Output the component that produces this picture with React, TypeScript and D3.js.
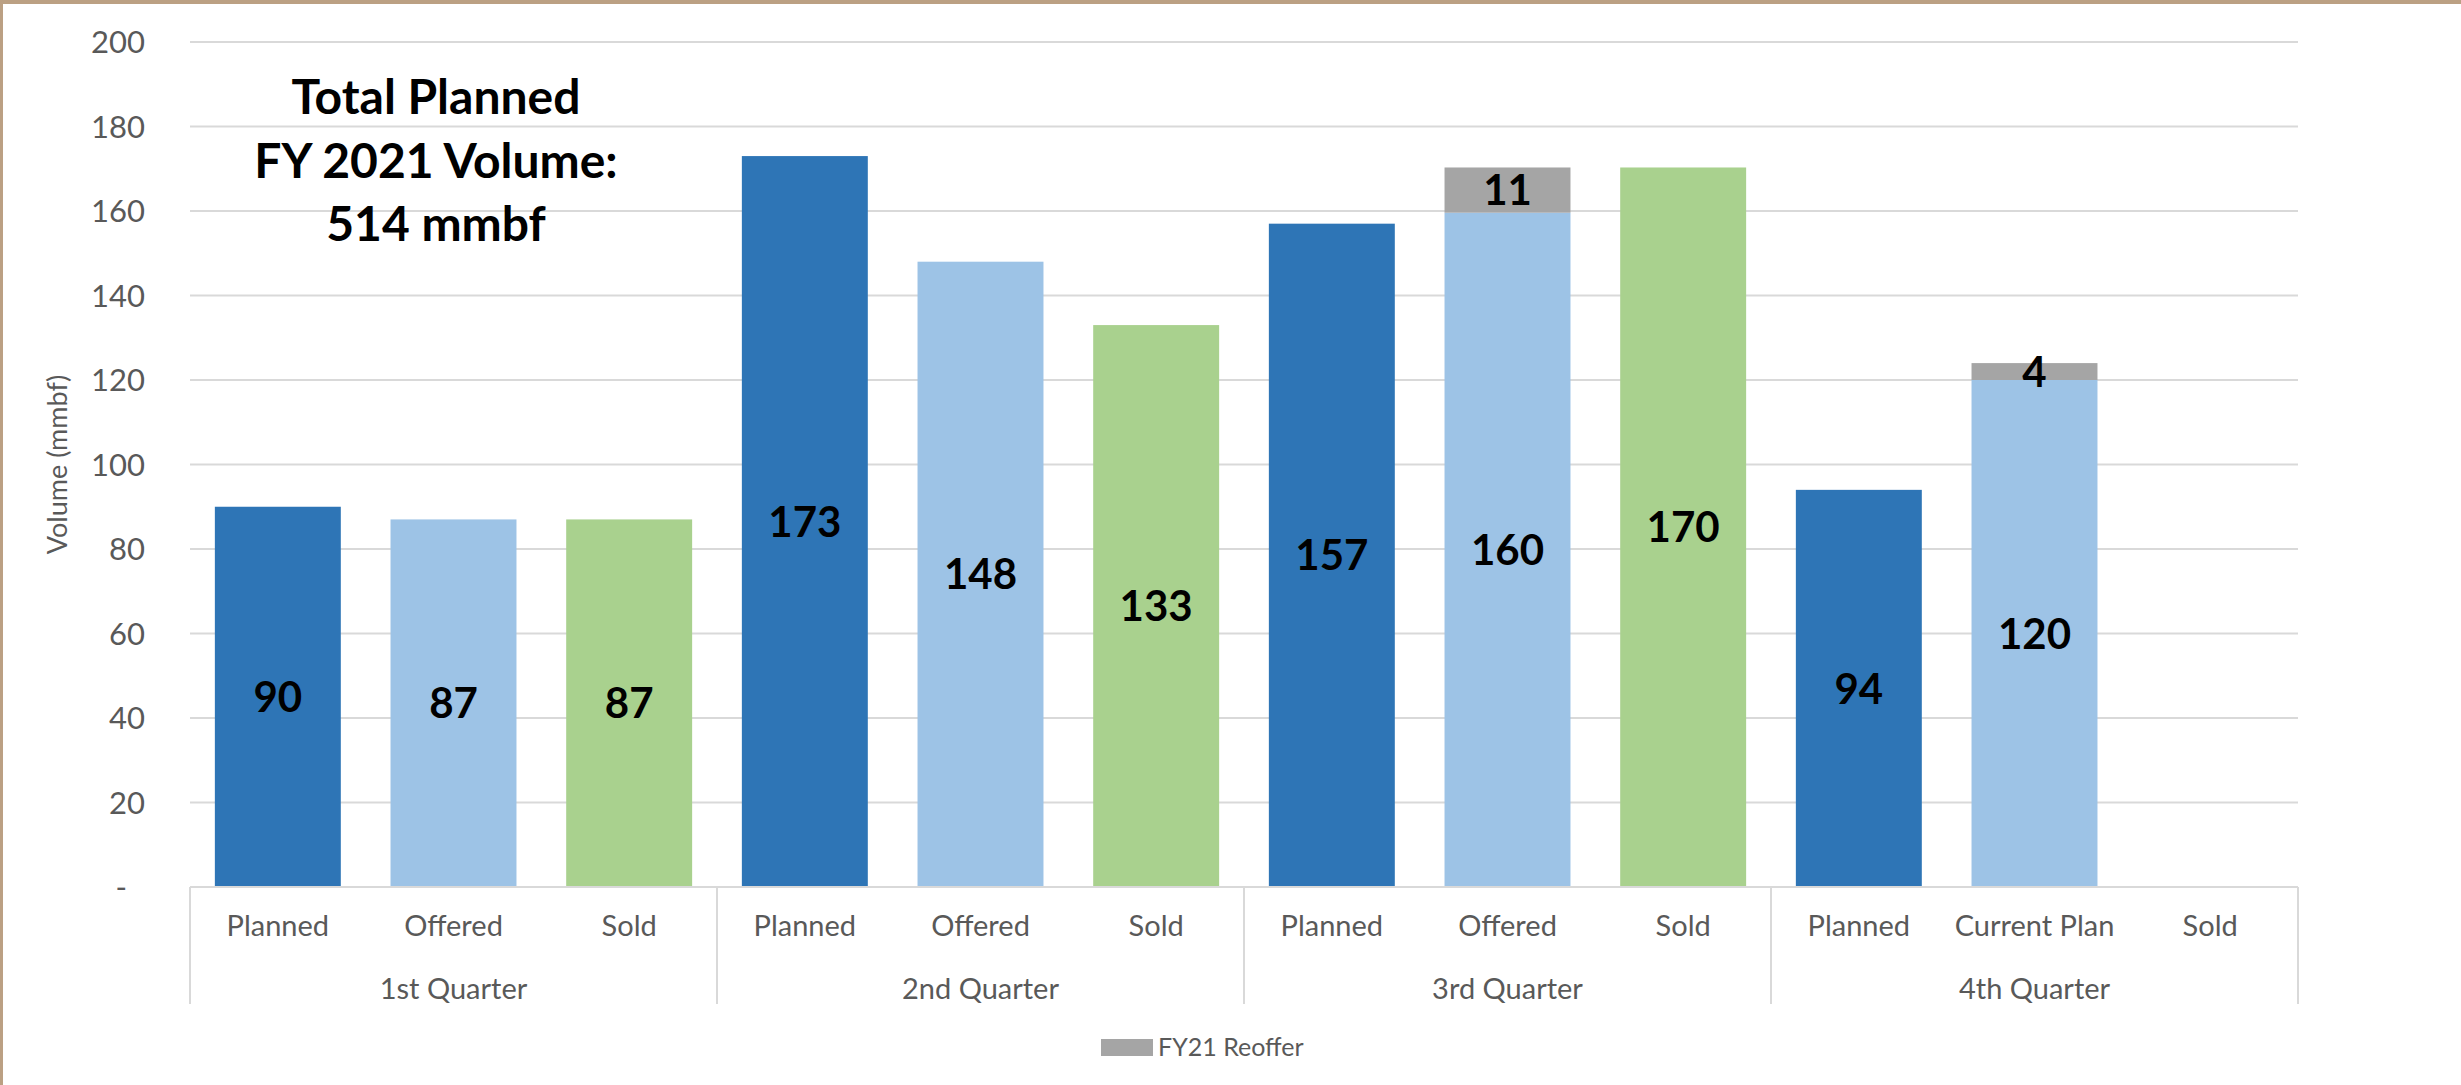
import * as d3 from 'd3';
import React from 'react';

// chart values
const quarters = ['1st Quarter', '2nd Quarter', '3rd Quarter', '4th Quarter'];
const subCategories = [
  'Planned', 'Offered', 'Sold',
  'Planned', 'Offered', 'Sold',
  'Planned', 'Offered', 'Sold',
  'Planned', 'Current Plan', 'Sold',
];
const kinds = ['planned', 'offered', 'sold', 'planned', 'offered', 'sold', 'planned', 'offered', 'sold', 'planned', 'offered', 'sold'];
const mainValues = [90, 87, 87, 173, 148, 133, 157, 159.6, 170.3, 94, 120, null];
const reofferValues = [0, 0, 0, 0, 0, 0, 0, 10.7, 0, 0, 4, 0];
const yTicks = [0, 20, 40, 60, 80, 100, 120, 140, 160, 180, 200];
const yTickLabels = ['-', '20', '40', '60', '80', '100', '120', '140', '160', '180', '200'];
const titleLines = ['Total Planned', 'FY 2021 Volume:', '514 mmbf'];
const legendLabel = 'FY21 Reoffer';

const colors: Record<string, string> = {
  planned: '#2E75B6',
  offered: '#9DC3E6',
  sold: '#A9D18E',
  reoffer: '#A5A5A5',
};

const W = 2461;
const H = 1085;
const left = 190;
const right = 2298;
const top = 42;
const zeroY = 887;
const font = 'Lato, "Open Sans", sans-serif';
const textGray = '#595959';
const gridColor = '#D9D9D9';

export default function App() {
  const ids = subCategories.map((_, i) => String(i));

  const x = d3.scaleBand<string>()
    .domain(ids)
    .range([left, right])
    .paddingInner(0.283)
    .paddingOuter(0.1415);

  const y = d3.scaleLinear().domain([0, 200]).range([zeroY, top]);

  const qWidth = (right - left) / quarters.length;
  const fmt = d3.format('.0f');

  return (
    <svg width={W} height={H} style={{ position: 'absolute', left: 0, top: 0, display: 'block' }}>
      <rect x={0} y={0} width={W} height={H} fill="#fff" />
      {/* frame */}
      <rect x={0} y={0} width={W} height={4} fill="#BBA083" />
      <rect x={0} y={0} width={3} height={H} fill="#BBA083" />

      {/* gridlines */}
      {yTicks.map((t) => (
        <line key={t} x1={left} x2={right} y1={y(t)} y2={y(t)} stroke={gridColor} strokeWidth={2} />
      ))}

      {/* y tick labels (accounting style: dash for zero sits left) */}
      {yTicks.map((t, i) => (
        <text key={'yl' + t} x={145} dx={t === 0 ? -18 : 0} y={y(t)} dy="0.36em" textAnchor="end" fontFamily={font} fontSize={31} fill={textGray}>
          {yTickLabels[i]}
        </text>
      ))}

      <text transform={`translate(67,${(top + zeroY) / 2}) rotate(-90)`} textAnchor="middle" fontFamily={font} fontSize={27} fill={textGray}>
        Volume (mmbf)
      </text>

      {/* bars */}
      {ids.map((id, i) => {
        const v = mainValues[i];
        if (v == null) return null;
        const r = reofferValues[i];
        return (
          <g key={'b' + id}>
            <rect x={x(id)} y={y(v)} width={x.bandwidth()} height={zeroY - y(v)} fill={colors[kinds[i]]} />
            {r > 0 && (
              <rect x={x(id)} y={y(v + r)} width={x.bandwidth()} height={y(v) - y(v + r)} fill={colors.reoffer} />
            )}
          </g>
        );
      })}

      {/* axis line + quarter separators */}
      <line x1={left} x2={right} y1={zeroY} y2={zeroY} stroke={gridColor} strokeWidth={2} />
      {d3.range(quarters.length + 1).map((q) => (
        <line key={'sep' + q} x1={left + q * qWidth} x2={left + q * qWidth} y1={zeroY} y2={1004} stroke={gridColor} strokeWidth={2} />
      ))}

      {/* data labels */}
      {ids.map((id, i) => {
        const v = mainValues[i];
        if (v == null) return null;
        const r = reofferValues[i];
        const cx = (x(id) as number) + x.bandwidth() / 2;
        return (
          <g key={'l' + id} fontFamily={font} fontWeight={700} fontSize={42} fill="#000" textAnchor="middle">
            <text x={cx} y={(y(v) + zeroY) / 2} dy="0.36em">{fmt(v)}</text>
            {r > 0 && <text x={cx} y={(y(v) + y(v + r)) / 2} dy="0.36em">{fmt(r)}</text>}
          </g>
        );
      })}

      {/* category labels */}
      {ids.map((id, i) => (
        <text key={'c' + id} x={(x(id) as number) + x.bandwidth() / 2} y={926} dy="0.36em" textAnchor="middle" fontFamily={font} fontSize={29} fill={textGray}>
          {subCategories[i]}
        </text>
      ))}
      {quarters.map((q, i) => (
        <text key={q} x={left + (i + 0.5) * qWidth} y={989} dy="0.36em" textAnchor="middle" fontFamily={font} fontSize={29} fill={textGray}>
          {q}
        </text>
      ))}

      {/* title */}
      {titleLines.map((line, i) => (
        <text key={line} x={436} y={97 + i * 63.5} dy="0.36em" textAnchor="middle" fontFamily={font} fontWeight={700} fontSize={48} fill="#000">
          {line}
        </text>
      ))}

      {/* legend */}
      <rect x={1101} y={1039} width={52} height={17} fill={colors.reoffer} />
      <text x={1158} y={1047} dy="0.36em" fontFamily={font} fontSize={25} fill={textGray}>
        {legendLabel}
      </text>
    </svg>
  );
}
